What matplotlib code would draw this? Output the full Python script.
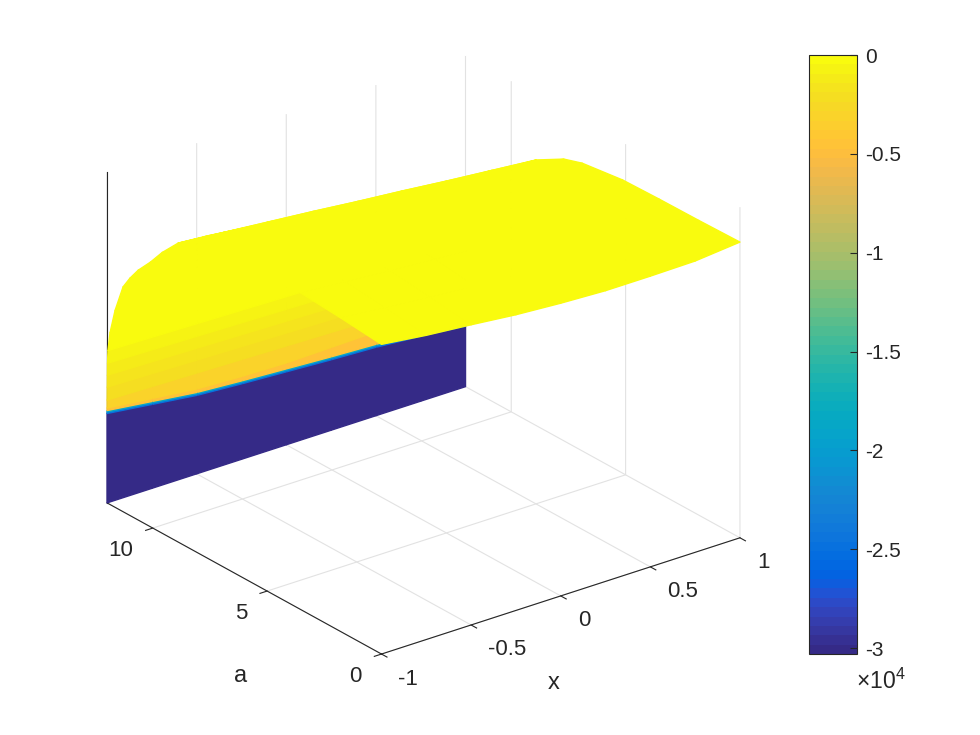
import numpy as np
import matplotlib
matplotlib.use("Agg")
import matplotlib.pyplot as plt
from matplotlib.cm import ScalarMappable
from matplotlib.colors import ListedColormap, Normalize
from mpl_toolkits.mplot3d import proj3d

# surface nodes
x_nodes = [-1, -0.75, -0.5, -0.25, 0, 0.25, 0.5, 0.75, 1]
a_nodes = [12, 11.999, 11.998, 11.997, 11.996, 11.995, 11.99, 11.985, 11.98, 11.96,
           11.87, 11.65, 11.3, 11, 10.64, 10.1, 9.59, 8.9, 7.7, 6.9, 5.13, 3.54, 1.8, 0]

# height of each row (z has no ticks, so pixels of the box are used as unit)
surf_z = [
    [0, 0, 0, 0, 0, 0, 0, 0, 0],
    [89.5, 84, 78.5, 75.5, 73, 70.5, 68.5, 65, 60.5],
    [91, 85.5, 80, 77, 74.5, 72, 70, 66.5, 62],
    [92.5, 87, 81.5, 78.5, 76, 73.5, 71.5, 68, 63.5],
    [95, 90, 85, 83, 82, 83, 84, 82, 80],
    [103, 102, 101, 100, 99, 98, 97, 96, 95],
    [116, 115, 114, 113, 112, 111, 110, 109, 108],
    [128, 127, 126, 125, 124, 123, 122, 121, 120],
    [140, 139, 138, 137, 136, 135, 134, 133, 132],
    [153, 152, 151, 150, 149, 148, 147, 146, 145],
    [172, 169, 166, 163, 160, 157, 154, 151, 148],
    [197, 194.5, 192, 189, 186, 183, 180, 177.5, 175],
    [225, 222.5, 220, 217.5, 215, 212.5, 210, 207.5, 205],
    [237.5, 235, 232.5, 230, 227.5, 225, 223, 220.5, 218],
    [250, 247.5, 245, 242.5, 240, 237.5, 235, 232.5, 230],
    [265, 262, 259, 256, 254, 251, 248, 245.5, 243],
    [281, 277.5, 274, 270.5, 267, 263.5, 260, 256.5, 253],
    [299, 295, 291, 287, 282.5, 278.5, 274, 270, 266],
    [321, 316, 311, 306.5, 302, 297, 292, 287, 282],
    [320, 316, 312, 307.5, 303.5, 300, 296, 292, 288],
    [319, 315.5, 312, 309, 306, 303, 300, 297, 293.5],
    [317, 313.5, 310, 307, 304, 301.5, 299, 296.5, 294.5],
    [314, 309.5, 305.5, 302, 299, 297, 295, 294.5, 295],
    [310, 304.5, 300.5, 296, 293, 291, 291, 291.6, 296],
]

# colour value of the facet starting at each row
row_color = [-30300, -25000, -19000, -4300, -3200, -2200, -1500, -1000, -500, 0,
             0, 0, 0, 0, 0, 0, 0, 0, 0, 0, 0, 0, 0, 0]

x_ticks = [-1, -0.5, 0, 0.5, 1]
x_ticklabels = ["-1", "-0.5", "0", "0.5", "1"]
a_ticks = [0, 5, 10]
a_ticklabels = ["0", "5", "10"]
cbar_ticks = [0, -5000, -10000, -15000, -20000, -25000, -30000]
cbar_ticklabels = ["0", "-0.5", "-1", "-1.5", "-2", "-2.5", "-3"]

# new matlab parula
PARULA = [
    (0.2081, 0.1663, 0.5292), (0.2116, 0.1898, 0.5777), (0.2123, 0.2138, 0.6270), (0.2081, 0.2386, 0.6771),
    (0.1959, 0.2645, 0.7279), (0.1707, 0.2919, 0.7792), (0.1253, 0.3242, 0.8303), (0.0591, 0.3598, 0.8683),
    (0.0117, 0.3875, 0.8820), (0.0060, 0.4086, 0.8828), (0.0165, 0.4266, 0.8786), (0.0329, 0.4430, 0.8720),
    (0.0498, 0.4586, 0.8641), (0.0629, 0.4737, 0.8554), (0.0723, 0.4887, 0.8467), (0.0779, 0.5040, 0.8384),
    (0.0793, 0.5200, 0.8312), (0.0749, 0.5375, 0.8263), (0.0641, 0.5570, 0.8240), (0.0488, 0.5772, 0.8228),
    (0.0343, 0.5966, 0.8199), (0.0265, 0.6137, 0.8135), (0.0239, 0.6287, 0.8038), (0.0231, 0.6418, 0.7913),
    (0.0228, 0.6535, 0.7768), (0.0267, 0.6642, 0.7607), (0.0384, 0.6743, 0.7436), (0.0590, 0.6838, 0.7254),
    (0.0843, 0.6928, 0.7062), (0.1133, 0.7015, 0.6859), (0.1453, 0.7098, 0.6646), (0.1801, 0.7177, 0.6424),
    (0.2178, 0.7250, 0.6193), (0.2586, 0.7317, 0.5954), (0.3022, 0.7376, 0.5712), (0.3482, 0.7424, 0.5473),
    (0.3953, 0.7459, 0.5244), (0.4420, 0.7481, 0.5033), (0.4871, 0.7491, 0.4840), (0.5300, 0.7491, 0.4661),
    (0.5709, 0.7485, 0.4494), (0.6099, 0.7473, 0.4337), (0.6473, 0.7456, 0.4188), (0.6834, 0.7435, 0.4044),
    (0.7184, 0.7411, 0.3905), (0.7525, 0.7384, 0.3768), (0.7858, 0.7356, 0.3633), (0.8185, 0.7327, 0.3498),
    (0.8507, 0.7299, 0.3360), (0.8824, 0.7274, 0.3217), (0.9139, 0.7258, 0.3063), (0.9450, 0.7261, 0.2886),
    (0.9739, 0.7314, 0.2666), (0.9938, 0.7455, 0.2403), (0.9990, 0.7653, 0.2164), (0.9955, 0.7861, 0.1967),
    (0.9880, 0.8066, 0.1794), (0.9789, 0.8271, 0.1633), (0.9697, 0.8481, 0.1475), (0.9626, 0.8705, 0.1309),
    (0.9589, 0.8949, 0.1132), (0.9598, 0.9218, 0.0948), (0.9661, 0.9514, 0.0755), (0.9763, 0.9831, 0.0538),
]

TEXT_COLOR = "#262626"
W, H = 980, 735

plt.rcParams["font.family"] = ["Liberation Sans", "DejaVu Sans"]
plt.rcParams["font.size"] = 16
plt.rcParams["axes.unicode_minus"] = False
plt.rcParams["mathtext.default"] = "regular"
plt.rcParams["text.color"] = TEXT_COLOR
plt.rcParams["axes.edgecolor"] = TEXT_COLOR
plt.rcParams["axes.linewidth"] = 0.8
plt.rcParams["xtick.color"] = TEXT_COLOR
plt.rcParams["ytick.color"] = TEXT_COLOR
plt.rcParams["xtick.major.width"] = 0.8
plt.rcParams["ytick.major.width"] = 0.8
plt.rcParams["grid.color"] = "#e2e2e2"
plt.rcParams["grid.linewidth"] = 0.8

cmap = ListedColormap(PARULA)
norm = Normalize(-30300, 0)

fig = plt.figure(figsize=(W / 100, H / 100), dpi=100)

# square axes placed so the projected box lands on the reference corners
ax = fig.add_axes([57 / W, 13.5 / H, 713.7 / W, 713.7 / H], projection="3d")
ax.set_proj_type("ortho")
ax.view_init(elev=25, azim=-127.5)
ax.set_box_aspect((452, 451, 365))

X, Y = np.meshgrid(x_nodes, a_nodes)
Z = np.array(surf_z, dtype=float)
colors = cmap(norm(np.tile(np.array(row_color)[:, None], (1, len(x_nodes)))))
# edges in the face colour, otherwise the facet seams show on the wall
ax.plot_surface(X, Y, Z, facecolors=colors, rstride=1, cstride=1, shade=False,
                linewidth=1.0, antialiased=True)

ax.set_xlim(-1, 1, view_margin=0)
ax.set_ylim(0, 12, view_margin=0)
ax.set_zlim(0, 331, view_margin=0)
ax.set_xticks(x_ticks)
ax.set_xticklabels([""] * len(x_ticks))
ax.set_yticks(a_ticks)
ax.set_yticklabels([""] * len(a_ticks))
ax.set_zticks([])

for axis in (ax.xaxis, ax.yaxis, ax.zaxis):
    axis.set_pane_color((1, 1, 1, 0))
    axis.pane.set_edgecolor("none")
    axis.line.set_color(TEXT_COLOR)
    axis.line.set_linewidth(0.8)
    # "inward" points away from the box at this view angle
    axis._axinfo["tick"]["inward_factor"] = 0.25
    axis._axinfo["tick"]["outward_factor"] = 0

# tick labels sit at a fixed pixel offset from the projected tick, as in matlab
proj = ax.get_proj()
for t, lab in zip(x_ticks, x_ticklabels):
    px, py, _ = proj3d.proj_transform(t, 0, 0, proj)
    ax.annotate(lab, (px, py), xytext=(17, -25), textcoords="offset pixels",
                ha="left", va="center", fontsize=16, annotation_clip=False)
for t, lab in zip(a_ticks, a_ticklabels):
    px, py, _ = proj3d.proj_transform(-1, t, 0, proj)
    ax.annotate(lab, (px, py), xytext=(-19.5, -22.5), textcoords="offset pixels",
                ha="right", va="center", fontsize=16, annotation_clip=False)

fig.text(241 / W, 1 - 676 / H, "a", fontsize=17, ha="center", va="center")
fig.text(554 / W, 1 - 683 / H, "x", fontsize=17, ha="center", va="center")

cax = fig.add_axes([809 / W, (H - 654) / H, 48 / W, 599 / H])
cb = fig.colorbar(ScalarMappable(norm=norm, cmap=cmap), cax=cax)
cb.set_ticks(cbar_ticks, labels=cbar_ticklabels)
cb.ax.tick_params(direction="in", length=4.7, width=0.8, pad=6, labelsize=15)
cb.outline.set_edgecolor(TEXT_COLOR)
cb.outline.set_linewidth(0.8)
fig.text(881 / W, 1 - 681.5 / H, "\u00d7$10^{4}$", fontsize=16.5, ha="center", va="center")

fig.savefig("out.png", dpi=100)
